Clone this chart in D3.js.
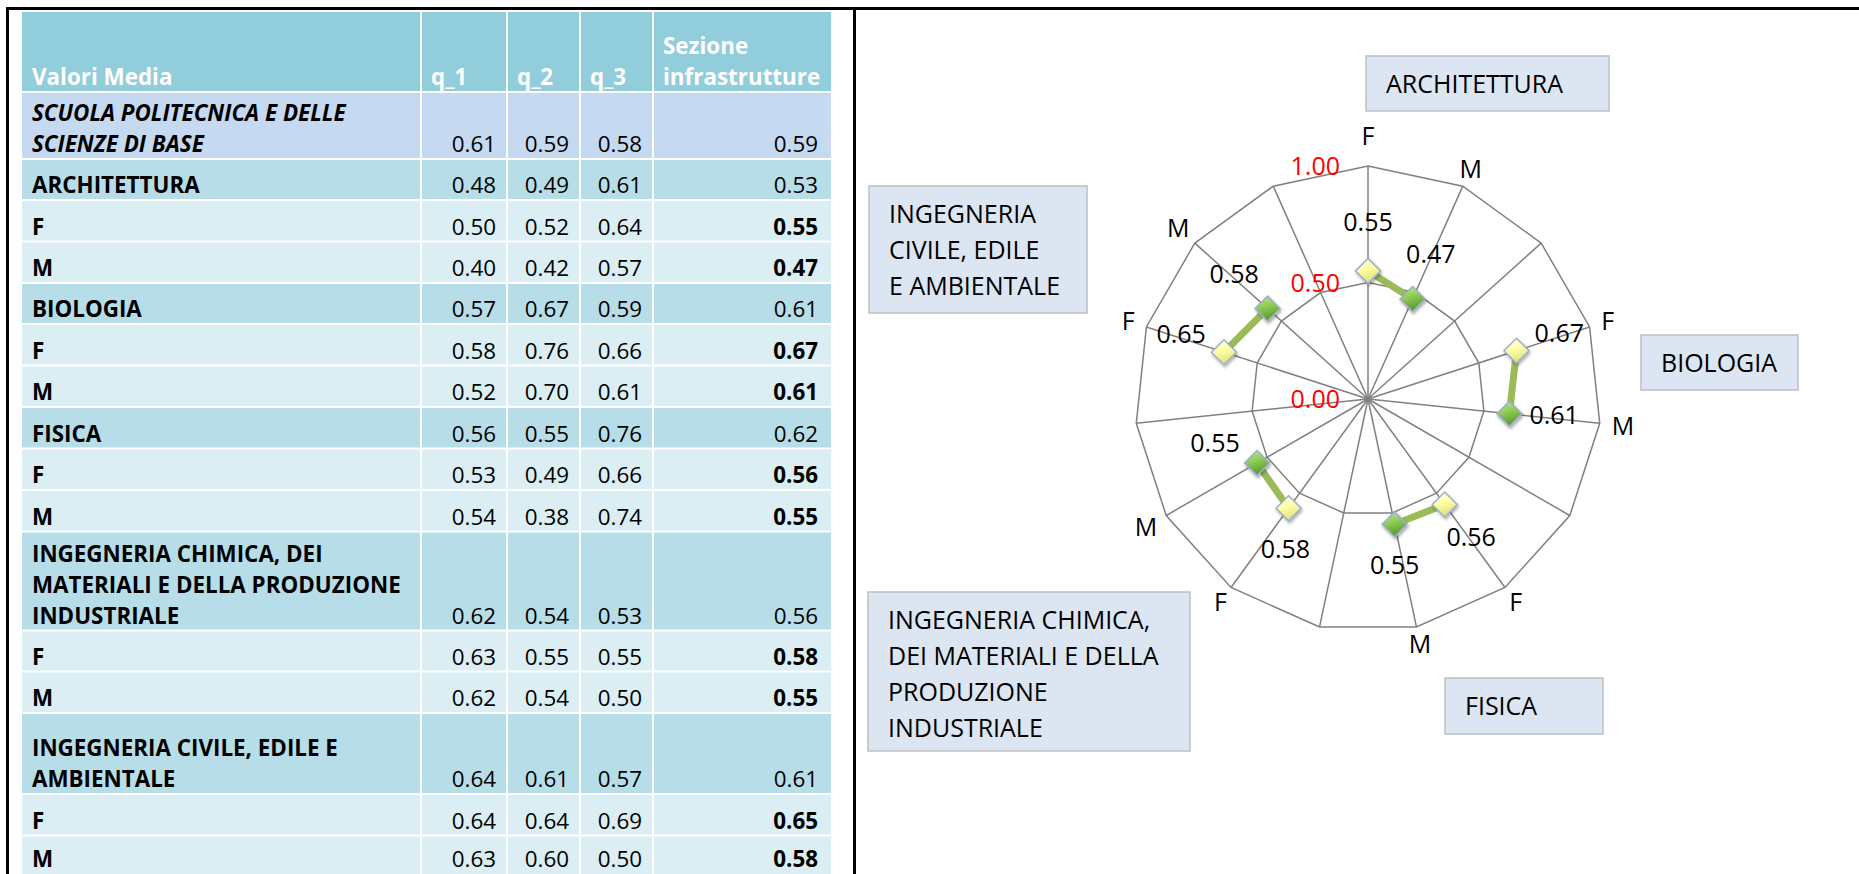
<!DOCTYPE html>
<html>
<head>
<meta charset="utf-8">
<script src="https://cdn.jsdelivr.net/npm/d3@7"></script>
<style>
  body { margin: 0; background: #fff; }
  svg { display: block; font-family: "Open Sans", sans-serif; }
</style>
</head>
<body>
<div id="chart"></div>
<script>
/* Table data */
const headers = ["Valori Media", "q_1", "q_2", "q_3", "Sezione\ninfrastrutture"];
const rowLabels = [
    "SCUOLA POLITECNICA E DELLE\nSCIENZE DI BASE",
    "ARCHITETTURA", "F", "M",
    "BIOLOGIA", "F", "M",
    "FISICA", "F", "M",
    "INGEGNERIA CHIMICA, DEI\nMATERIALI E DELLA PRODUZIONE\nINDUSTRIALE", "F", "M",
    "INGEGNERIA CIVILE, EDILE E\nAMBIENTALE", "F", "M"
];
const rowTypes = ["school", "group", "sub", "sub", "group", "sub", "sub", "group", "sub", "sub",
    "group", "sub", "sub", "group", "sub", "sub"];
const q1 = [0.61, 0.48, 0.50, 0.40, 0.57, 0.58, 0.52, 0.56, 0.53, 0.54, 0.62, 0.63, 0.62, 0.64, 0.64, 0.63];
const q2 = [0.59, 0.49, 0.52, 0.42, 0.67, 0.76, 0.70, 0.55, 0.49, 0.38, 0.54, 0.55, 0.54, 0.61, 0.64, 0.60];
const q3 = [0.58, 0.61, 0.64, 0.57, 0.59, 0.66, 0.61, 0.76, 0.66, 0.74, 0.53, 0.55, 0.50, 0.57, 0.69, 0.50];
const sezione = [0.59, 0.53, 0.55, 0.47, 0.61, 0.67, 0.61, 0.62, 0.56, 0.55, 0.56, 0.58, 0.55, 0.61, 0.65, 0.58];

/* Radar data */
const radarCategories = ["F", "M", "", "F", "M", "", "F", "M", "", "F", "M", "", "F", "M", ""];
const radarTicks = [0, 0.5, 1];
const departments = ["ARCHITETTURA", "BIOLOGIA", "FISICA",
    "INGEGNERIA CHIMICA,\nDEI MATERIALI E DELLA\nPRODUZIONE\nINDUSTRIALE",
    "INGEGNERIA\nCIVILE, EDILE\nE AMBIENTALE"];

/* radar values = Sezione infrastrutture of F and M rows, one gap per department */
const radarValues = [];
rowTypes.forEach(function (t, i) {
    if (t !== "sub") return;
    radarValues.push(sezione[i]);
    if (rowLabels[i] === "M") radarValues.push(null);
});

/* Layout */
const width = 1859, height = 874;
const colEdges = [22, 422, 508, 581, 654, 833];
const rowHeights = [81, 67, 41, 41.5, 41.5, 41, 41.5, 41.5, 41.5, 41.5, 41.5, 99, 41, 41.5, 81, 41.5, 40];
const tableTop = 12;
const fills = { header: "#92CDDC", school: "#C5D9F1", group: "#B7DEE8", sub: "#DAEEF3" };
const tableFont = 22.4, chartFont = 25;

const svg = d3.select("#chart").append("svg")
    .attr("width", width)
    .attr("height", height);

/* ---------- table ---------- */
let rowTops = [];
let acc = tableTop;
rowHeights.forEach(function (h) { rowTops.push(acc); acc += h; });

const fmt = d3.format(".2f");

function drawCell(row, col, fill) {
    const x = colEdges[col];
    const w = colEdges[col + 1] - colEdges[col] - 2;
    svg.append("rect")
        .attr("x", x).attr("y", rowTops[row])
        .attr("width", w).attr("height", rowHeights[row] - 2)
        .attr("fill", fill);
}

function multiline(sel, str, x, bottom, lineH) {
    const lines = str.split("\n");
    lines.forEach(function (l, k) {
        sel.append("tspan")
            .attr("x", x)
            .attr("y", bottom - (lines.length - 1 - k) * lineH)
            .text(l);
    });
}

// header row
headers.forEach(function (h, c) {
    drawCell(0, c, fills.header);
    const t = svg.append("text")
        .attr("font-size", tableFont)
        .attr("font-weight", "bold")
        .attr("fill", "#fff");
    multiline(t, h, colEdges[c] + 9 + (c === 0 ? 1 : 0), rowTops[0] + rowHeights[0] - 8, 31);
});

// body rows
rowLabels.forEach(function (label, i) {
    const r = i + 1;
    const type = rowTypes[i];
    for (let c = 0; c < 5; c++) drawCell(r, c, fills[type]);
    const base = Math.min(rowTops[r] + rowHeights[r] - 8, 867);

    const t = svg.append("text")
        .attr("font-size", tableFont)
        .attr("font-weight", "bold")
        .attr("font-style", type === "school" ? "italic" : null)
        .attr("fill", "#000");
    multiline(t, label, 32, base, 31);

    [q1[i], q2[i], q3[i], sezione[i]].forEach(function (v, k) {
        const c = k + 1;
        const right = k === 3 ? 818 : colEdges[c + 1] - 12;
        svg.append("text")
            .attr("x", right)
            .attr("y", base)
            .attr("text-anchor", "end")
            .attr("font-size", tableFont)
            .attr("font-weight", (k === 3 && type === "sub") ? "bold" : null)
            .text(fmt(v));
    });
});

/* frame lines */
svg.append("path")
    .attr("d", "M7.5," + height + "V8.5H" + width + "M854.5,8.5V" + height)
    .attr("fill", "none")
    .attr("stroke", "#000")
    .attr("stroke-width", 3);

/* ---------- radar ---------- */
const cx = 1368, cy = 399, R = 233;
const n = radarCategories.length;
const rScale = d3.scaleLinear().domain([0, 1]).range([0, R]);
const aScale = d3.scaleLinear().domain([0, n]).range([0, 2 * Math.PI]);

const defs = svg.append("defs");
function grad(id, stops) {
    const gr = defs.append("linearGradient").attr("id", id)
        .attr("x1", 0).attr("y1", 0).attr("x2", 0.3).attr("y2", 1);
    stops.forEach(function (s) {
        gr.append("stop").attr("offset", s[0]).attr("stop-color", s[1]);
    });
}
grad("gF", [[0, "#FFFFE6"], [0.5, "#FFFFA6"], [1, "#E2E27A"]]);
grad("gM", [[0, "#C3E79A"], [0.5, "#8ECB55"], [1, "#5A9A2C"]]);
defs.append("filter").attr("id", "shadow")
    .attr("x", "-50%").attr("y", "-50%").attr("width", "200%").attr("height", "200%")
    .append("feDropShadow")
    .attr("dx", 1).attr("dy", 2).attr("stdDeviation", 1.5)
    .attr("flood-color", "#000").attr("flood-opacity", 0.35);

const g = svg.append("g").attr("transform", "translate(" + cx + "," + cy + ")");

// rings
const ring = d3.lineRadial()
    .angle(function (d, i) { return aScale(i); })
    .radius(function (d) { return rScale(d); })
    .curve(d3.curveLinearClosed);
radarTicks.filter(function (t) { return t > 0; }).forEach(function (t) {
    g.append("path")
        .attr("d", ring(d3.range(n).map(function () { return t; })))
        .attr("fill", "none")
        .attr("stroke", "#808080")
        .attr("stroke-width", 1.5);
});

// spokes
g.selectAll("line.spoke")
    .data(d3.range(n))
    .enter().append("line")
    .attr("class", "spoke")
    .attr("x1", 0).attr("y1", 0)
    .attr("x2", function (i) { return rScale(1) * Math.sin(aScale(i)); })
    .attr("y2", function (i) { return -rScale(1) * Math.cos(aScale(i)); })
    .attr("stroke", "#808080")
    .attr("stroke-width", 1.5);

// tick labels
g.selectAll("text.tick")
    .data(radarTicks)
    .enter().append("text")
    .attr("class", "tick")
    .attr("x", -28)
    .attr("y", function (d) { return -rScale(d); })
    .attr("dy", "0.36em")
    .attr("text-anchor", "middle")
    .attr("text-anchor", "end")
    .attr("font-size", chartFont)
    .attr("fill", "#FF0000")
    .text(fmt);

// category labels
g.selectAll("text.cat")
    .data(radarCategories)
    .enter().append("text")
    .attr("class", "cat")
    .attr("font-size", chartFont)
    .attr("text-anchor", "middle")
    .attr("dy", "0.36em")
    .text(function (d) { return d; })
    .each(function (d, i) {
        const a = aScale(i);
        const ux = Math.sin(a), uy = -Math.cos(a);
        const w = this.getComputedTextLength();
        let t = 12 + Math.abs(ux) * w / 2 + Math.abs(uy) * 3;
        if (Math.abs(ux) < 0.1) t += 15;
        d3.select(this)
            .attr("x", (R + t) * ux)
            .attr("y", (R + t) * uy);
    });

// series line (broken at empty categories)
const line = d3.lineRadial()
    .defined(function (d) { return d != null; })
    .angle(function (d, i) { return aScale(i); })
    .radius(function (d) { return rScale(d); });
g.append("path")
    .attr("d", line(radarValues))
    .attr("fill", "none")
    .attr("stroke", "#9BBB59")
    .attr("stroke-width", 7);

const points = radarValues.map(function (v, i) {
    return { v: v, i: i, cat: radarCategories[i] };
}).filter(function (d) { return d.v != null; });

// markers
g.selectAll("path.marker")
    .data(points)
    .enter().append("path")
    .attr("class", "marker")
    .attr("d", "M0,-12.5L12.5,0L0,12.5L-12.5,0Z")
    .attr("transform", function (d) {
        const a = aScale(d.i), r = rScale(d.v);
        return "translate(" + (r * Math.sin(a)) + "," + (-r * Math.cos(a)) + ")";
    })
    .attr("fill", function (d) { return d.cat === "F" ? "url(#gF)" : "url(#gM)"; })
    .attr("stroke", "#9DAFCF")
    .attr("stroke-width", 1.5)
    .attr("filter", "url(#shadow)");

// data labels (a few nudged the way the original places them)
const labelDir = { 7: 180, 9: 184, 10: 291 };
function labelAngle(d) {
    return labelDir[d.i] != null ? labelDir[d.i] * Math.PI / 180 : aScale(d.i);
}
g.selectAll("text.val")
    .data(points)
    .enter().append("text")
    .attr("class", "val")
    .attr("font-size", chartFont)
    .attr("text-anchor", "middle")
    .attr("dy", "0.36em")
    .attr("x", function (d) {
        return rScale(d.v) * Math.sin(aScale(d.i)) + 45 * Math.sin(labelAngle(d));
    })
    .attr("y", function (d) {
        return -rScale(d.v) * Math.cos(aScale(d.i)) - 45 * Math.cos(labelAngle(d)) - 4;
    })
    .text(function (d) { return fmt(d.v); });

/* department boxes */
const boxLayout = [
    { x: 1366, y: 56, w: 243, h: 55 },
    { x: 1641, y: 335, w: 157, h: 55 },
    { x: 1445, y: 678, w: 158, h: 56 },
    { x: 868, y: 592, w: 322, h: 159 },
    { x: 869, y: 186, w: 218, h: 127 }
];
departments.forEach(function (name, k) {
    const b = boxLayout[k];
    svg.append("rect")
        .attr("x", b.x).attr("y", b.y)
        .attr("width", b.w).attr("height", b.h)
        .attr("fill", "#DCE6F2")
        .attr("stroke", "#BFBFBF")
        .attr("stroke-width", 1.5);
    const t = svg.append("text").attr("font-size", chartFont);
    name.split("\n").forEach(function (l, j) {
        t.append("tspan")
            .attr("x", b.x + 20)
            .attr("y", b.y + 37 + j * 36)
            .text(l);
    });
});
</script>
</body>
</html>
